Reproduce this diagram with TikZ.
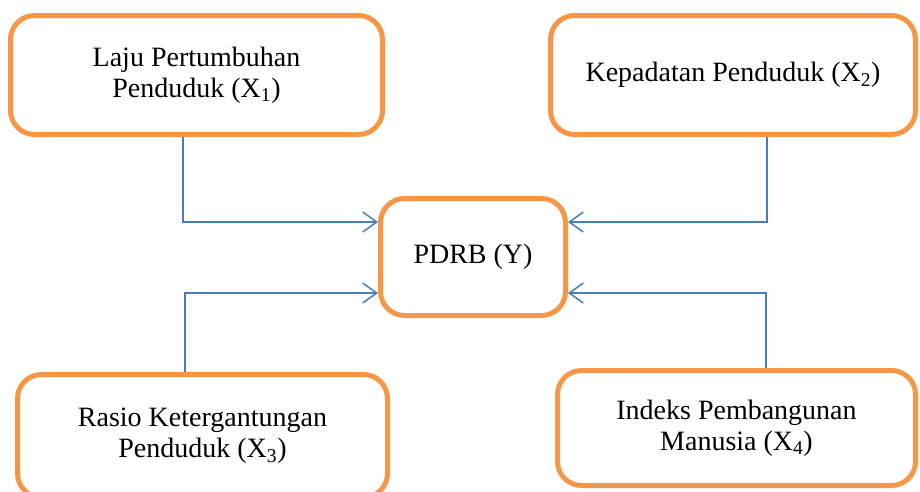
\documentclass[tikz,border=0pt]{standalone}
\usepackage{fontspec}
\setmainfont{Liberation Serif}
\usetikzlibrary{arrows.meta}
\definecolor{boxorange}{RGB}{247,150,70}
\definecolor{linkblue}{RGB}{74,126,187}
\tikzstyle{varbox} = [rectangle, rounded corners=24pt, draw=boxorange, line width=5pt, fill=white, text centered, align=center, inner sep=0pt, font=\fontsize{28}{31}\selectfont]
\tikzstyle{arrow} = [draw=linkblue, line width=1.5pt, -{Straight Barb[length=14pt,width=20pt]}]

\begin{document}
\begin{tikzpicture}[x=1pt, y=-1pt]
\useasboundingbox (0,0) rectangle (920,491);

\node (pdrb) [varbox, minimum width=185pt, minimum height=117pt] at (473,257) {PDRB (Y)};
\node (laju) [varbox, minimum width=372pt, minimum height=119pt] at (196.5,75) {Laju Pertumbuhan\\Penduduk (X\textsubscript{1})};
\node (kepadatan) [varbox, minimum width=365pt, minimum height=119pt] at (733,75) {Kepadatan Penduduk (X\textsubscript{2})};
\node (rasio) [varbox, minimum width=370pt, minimum height=123pt] at (202.5,436) {Rasio Ketergantungan\\Penduduk (X\textsubscript{3})};
\node (indeks) [varbox, minimum width=358pt, minimum height=115pt] at (736.5,428) {Indeks Pembangunan\\Manusia (X\textsubscript{4})};

\draw [arrow] ([xshift=-13.5pt]laju.south) |- ([yshift=35pt]pdrb.west);
\draw [arrow] ([xshift=34pt]kepadatan.south) |- ([yshift=35pt]pdrb.east);
\draw [arrow] ([xshift=-17.5pt]rasio.north) |- ([yshift=-36pt]pdrb.west);
\draw [arrow] ([xshift=29.5pt]indeks.north) |- ([yshift=-36pt]pdrb.east);

\end{tikzpicture}
\end{document}
